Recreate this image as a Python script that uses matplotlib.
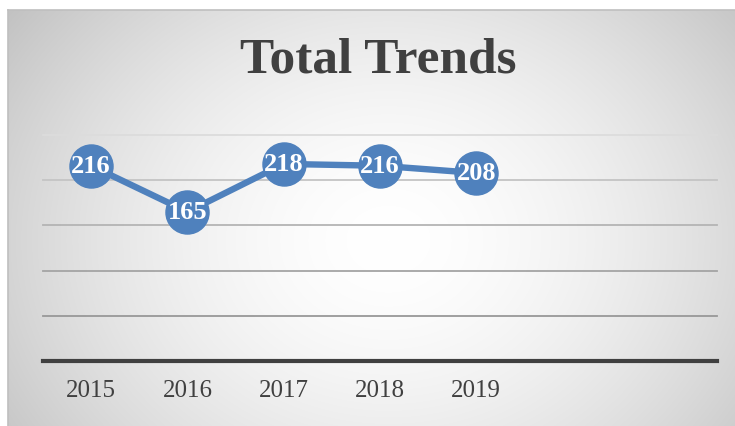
import matplotlib
matplotlib.use("Agg")
import matplotlib.pyplot as plt
import numpy as np

years = ["2015", "2016", "2017", "2018", "2019"]
values = [216, 165, 218, 216, 208]
n_slots = 7
grid_values = [50, 100, 150, 200, 250]

W, H = 735, 427
fig = plt.figure(figsize=(W / 100, H / 100), dpi=100)
fig.patch.set_facecolor("white")

# background gradient for chart area
bg = fig.add_axes([8 / W, 0, (W - 8) / W, (H - 11) / H])
yy, xx = np.mgrid[0:H - 11, 0:W - 8]
cx, cy = 380, 230
d = np.sqrt(((xx - cx) / 1.15) ** 2 + ((yy - cy) / 0.95) ** 2) / 420
val = 1.0 - 0.25 * np.clip(d, 0, 1.3) ** 1.7
img = np.dstack([val, val, val])
bg.imshow(img, aspect="auto", extent=[0, 1, 0, 1], origin="upper")
bg.set_xlim(0, 1)
bg.set_ylim(0, 1)
bg.set_xticks([])
bg.set_yticks([])
for name, s in bg.spines.items():
    s.set_color("#bfbfbf")
    s.set_linewidth(1.2)
    if name in ("right", "bottom"):
        s.set_visible(False)

ax = fig.add_axes([43 / W, (H - 362) / H, (717 - 43) / W, (362 - 136) / H])
ax.set_facecolor("none")
ax.set_xlim(-0.5, n_slots - 0.5)
ax.set_ylim(0, 250)
grid_colors = ["#dcdcdc", "#c4c4c4", "#b4b4b4", "#a4a4a4", "#989898"]
for g, c in zip(grid_values[::-1], grid_colors):
    ax.axhline(g, color=c, lw=1.3, zorder=1, clip_on=False)
ax.axhline(0, color="#404040", lw=3.0, zorder=2, clip_on=False)

x = np.arange(len(years))
ax.plot(x, values, color="#4F81BD", lw=4.6, marker="o", markersize=31,
        markerfacecolor="#4F81BD", markeredgecolor="#4F81BD", zorder=3,
        solid_joinstyle="round")
for xi, v in zip(x, values):
    ax.text(xi, v, str(v), ha="center", va="center", color="white",
            fontsize=19, fontweight="bold", family="Liberation Serif", zorder=4)

ax.set_xticks(x)
ax.set_xticklabels(years, fontsize=18, family="Liberation Serif", color="#404040")
ax.tick_params(axis="x", length=0, pad=13)
ax.set_yticks([])
for s in ax.spines.values():
    s.set_visible(False)

fig.text(378 / W, 1 - 61 / H, "Total Trends", ha="center", va="center",
         fontsize=37, fontweight="bold", family="Liberation Serif", color="#404040")

fig.savefig("out.png", dpi=100)
